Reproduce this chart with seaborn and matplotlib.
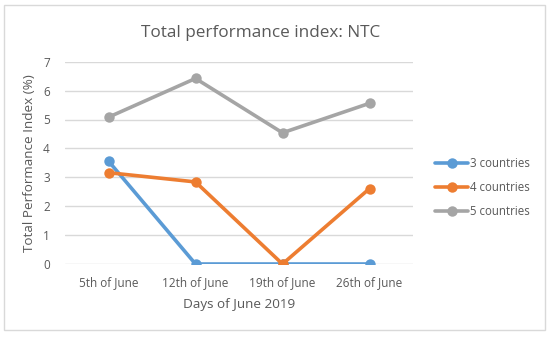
import matplotlib
matplotlib.use("Agg")
import matplotlib.pyplot as plt
import numpy as np
import pandas as pd
import seaborn as sns
from matplotlib.patches import Rectangle

days = ["5th of June", "12th of June", "19th of June", "26th of June"]
three_countries = [3.56, 0.0, 0.0, 0.0]
four_countries = [3.16, 2.84, 0.0, 2.61]
five_countries = [5.08, 6.42, 4.54, 5.56]
series_names = ["3 countries", "4 countries", "5 countries"]
colors = ["#5B9BD5", "#ED7D31", "#A5A5A5"]

df = pd.DataFrame({
    "pos": list(range(len(days))) * 3,
    "value": three_countries + four_countries + five_countries,
    "series": np.repeat(series_names, len(days)),
})

sns.set_style("white")
plt.rcParams["font.family"] = ["Open Sans", "DejaVu Sans"]
text_col = "#595959"

fig = plt.figure(figsize=(5.5, 3.37), dpi=100)
ax = fig.add_axes([65 / 550, 73 / 337, 348 / 550, 202.3 / 337])

sns.lineplot(data=df, x="pos", y="value", hue="series", palette=colors,
             marker="o", markersize=7.5, markeredgewidth=0, linewidth=2.6,
             ax=ax, legend=True)

ax.set_xlim(-0.5, 3.5)
ax.set_ylim(0, 7)
ax.set_yticks(range(0, 8))
ax.set_xticks(range(len(days)))
ax.set_xticklabels(days)
ax.grid(axis="y", color="#d9d9d9", linewidth=1)
ax.set_axisbelow(True)
for s in ax.spines.values():
    s.set_visible(False)
ax.tick_params(axis="both", length=0, labelsize=8.5, colors=text_col)
ax.tick_params(axis="x", pad=9)
ax.tick_params(axis="y", pad=11)
ax.set_xlabel("Days of June 2019", fontsize=9.7, color=text_col, labelpad=6)
ax.set_ylabel("Total Performance Index (%)", fontsize=9.7, color=text_col, labelpad=5)

leg = ax.legend(loc="center left", bbox_to_anchor=(1.063, 0.376), frameon=False,
                fontsize=8.3, handlelength=2.9, handletextpad=0.1,
                labelspacing=0.95, borderaxespad=0, borderpad=0)
for t in leg.get_texts():
    t.set_color(text_col)

fig.text(261 / 550, 1 - 33 / 337, "Total performance index: NTC", ha="center",
         va="center", fontsize=12.3, color=text_col)

fig.patches.append(Rectangle((3.5 / 550, 7 / 337), 541.5 / 550, 325 / 337,
                             transform=fig.transFigure, fill=False,
                             edgecolor="#d9d9d9", linewidth=1))

fig.savefig("out.png", dpi=100)
